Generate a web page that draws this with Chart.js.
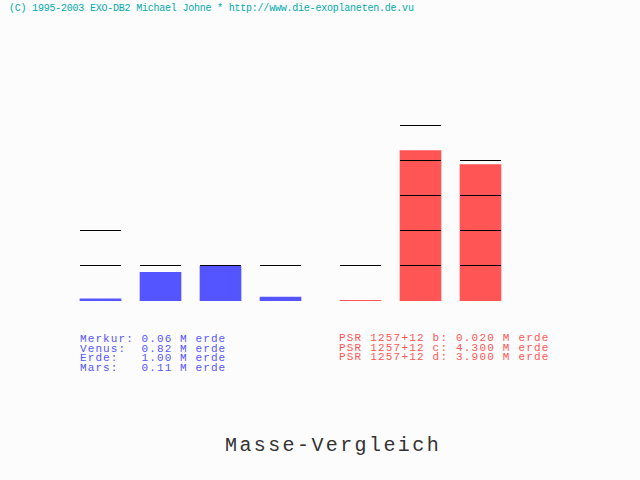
<!DOCTYPE html>
<html>
<head>
<meta charset="utf-8">
<script src="https://cdn.jsdelivr.net/npm/chart.js@4"></script>
<style>
  html, body { margin: 0; padding: 0; background: #fcfcfc; }
  #page { position: relative; width: 640px; height: 480px; overflow: hidden; background: #fcfcfc; }
  canvas { position: absolute; top: 0; }
  .txt { position: absolute; white-space: pre; font-family: "Liberation Mono", "DejaVu Sans Mono", monospace; }
  #header { left: 9px; top: 4px; font-size: 10px; line-height: 10px; letter-spacing: -0.22px; color: #00aaaa; }
  #solarText { left: 80px; top: 335px; font-size: 11px; line-height: 9.5px; letter-spacing: 1.1px; color: #5555ff; }
  #psrText { left: 339px; top: 334px; font-size: 11px; line-height: 9.5px; letter-spacing: 1.2px; color: #ff5555; }
  #title { left: 225px; top: 436px; font-size: 20px; line-height: 20px; letter-spacing: 2.4px; color: #333; }
</style>
</head>
<body>
<div id="page">
  <div id="header" class="txt">(C) 1995-2003 EXO-DB2 Michael Johne * http://www.die-exoplaneten.de.vu</div>
  <canvas id="solarChart" width="241" height="301" style="left:70px"></canvas>
  <canvas id="psrChart" width="181" height="301" style="left:330px"></canvas>
  <div id="solarText" class="txt"></div>
  <div id="psrText" class="txt"></div>
  <div id="title" class="txt">Masse-Vergleich</div>
</div>
<script>
'use strict';

// data (masses in earth masses)
let solarNames = ['Merkur', 'Venus', 'Erde', 'Mars'];
let solarMasses = [0.06, 0.82, 1.00, 0.11];
let solarMarks = [2, 1, 1, 1];

let psrNames = ['PSR 1257+12 b', 'PSR 1257+12 c', 'PSR 1257+12 d'];
let psrMasses = [0.020, 4.300, 3.900];
let psrMarks = [1, 5, 4];

let blue = '#5555ff';
let red = '#ff5555';

// black line at every earth mass over each bar
let unitLines = {
  id: 'unitLines',
  afterDatasetsDraw(chart) {
    let c = chart.ctx;
    let y = chart.scales.y;
    let marks = chart.options.plugins.unitLines.marks;
    let bars = chart.getDatasetMeta(0).data;
    c.save();
    c.fillStyle = '#000';
    for (let i = 0; i < bars.length; i++) {
      let left = bars[i].x - bars[i].width / 2;
      for (let k = 1; k <= marks[i]; k++) {
        c.fillRect(left, Math.round(y.getPixelForValue(k)) - 1, bars[i].width, 1);
      }
    }
    c.restore();
  }
};

function makeChart(id, names, masses, marks, color) {
  new Chart(document.getElementById(id), {
    type: 'bar',
    data: {
      labels: names,
      datasets: [{
        data: masses,
        backgroundColor: color,
        borderWidth: 0,
        barThickness: 41
      }]
    },
    options: {
      responsive: false,
      animation: false,
      layout: { padding: { top: 91, bottom: 0, left: 0.5, right: 0.5 } },
      scales: {
        x: { display: false, grid: { display: false } },
        y: { display: false, min: 0, max: 6, grid: { display: false } }
      },
      plugins: {
        legend: { display: false },
        tooltip: { enabled: false },
        unitLines: { marks: marks }
      }
    },
    plugins: [unitLines]
  });
}

makeChart('solarChart', solarNames, solarMasses, solarMarks, blue);
makeChart('psrChart', psrNames, psrMasses, psrMarks, red);

// text lists under the bars
let solarLines = [];
for (let i = 0; i < solarNames.length; i++) {
  solarLines.push((solarNames[i] + ':').padEnd(8) + solarMasses[i].toFixed(2) + ' M erde');
}
document.getElementById('solarText').textContent = solarLines.join('\n');

let psrLines = [];
for (let i = 0; i < psrNames.length; i++) {
  psrLines.push(psrNames[i] + ': ' + psrMasses[i].toFixed(3) + ' M erde');
}
document.getElementById('psrText').textContent = psrLines.join('\n');
</script>
</body>
</html>
